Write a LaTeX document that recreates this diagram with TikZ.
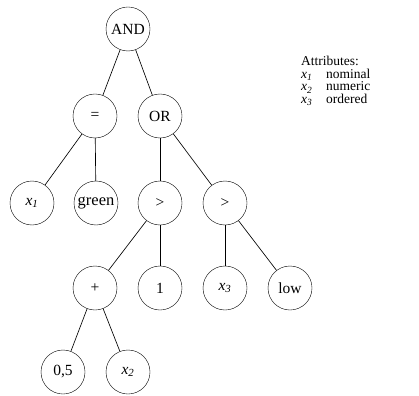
\documentclass[tikz,border=0pt]{standalone}
\usepackage{fontspec}
\setmainfont{Liberation Serif}
\begin{document}
\begin{tikzpicture}[x=1pt,y=-1pt,
  tn/.style={draw,circle,minimum size=44pt,inner sep=0pt,font=\fontsize{15.5}{18}\selectfont},
  lab/.style={anchor=base west,inner sep=0pt,font=\fontsize{13.5}{15}\selectfont},
  edge/.style={draw,line width=0.65pt}]
\useasboundingbox (0,0) rectangle (419,395);
\node[tn] (and) at (128,29) {AND};
\node[tn] (eq) at (95,116) {=};
\node[tn] (or) at (160,116) {OR};
\node[tn] (x1) at (32,203) {\textit{x}\textsubscript{\textit{1}}};
\node[tn,font=\fontsize{16.5}{18}\selectfont] (green) at (96,203) {green};
\node[tn] (gt1) at (160,203) {>};
\node[tn] (gt2) at (225,203) {>};
\node[tn] (plus) at (95,288) {+};
\node[tn] (one) at (160,288) {1};
\node[tn] (x3) at (225,288) {\textit{x}\textsubscript{\textit{3}}};
\node[tn] (low) at (290,288) {low};
\node[tn] (half) at (63,372) {0,5};
\node[tn] (x2) at (128,372) {\textit{x}\textsubscript{\textit{2}}};
\draw[edge] (and) -- (eq);
\draw[edge] (and) -- (or);
\draw[edge] (eq) -- (x1);
\draw[edge] (eq) -- (green);
\draw[edge] (or) -- (gt1);
\draw[edge] (or) -- (gt2);
\draw[edge] (gt1) -- (plus);
\draw[edge] (gt1) -- (one);
\draw[edge] (gt2) -- (x3);
\draw[edge] (gt2) -- (low);
\draw[edge] (plus) -- (half);
\draw[edge] (plus) -- (x2);
\node[lab] (attr) at (301,66) {Attributes:};
\node[lab] (a1) at (301,78.5) {\textit{x}\textsubscript{\textit{1}}};
\node[lab] (a2) at (301,91) {\textit{x}\textsubscript{\textit{2}}};
\node[lab] (a3) at (301,103.5) {\textit{x}\textsubscript{\textit{3}}};
\node[lab] (t1) at (326,78.5) {nominal};
\node[lab] (t2) at (326,91) {numeric};
\node[lab] (t3) at (326,103.5) {ordered};
\end{tikzpicture}
\end{document}
